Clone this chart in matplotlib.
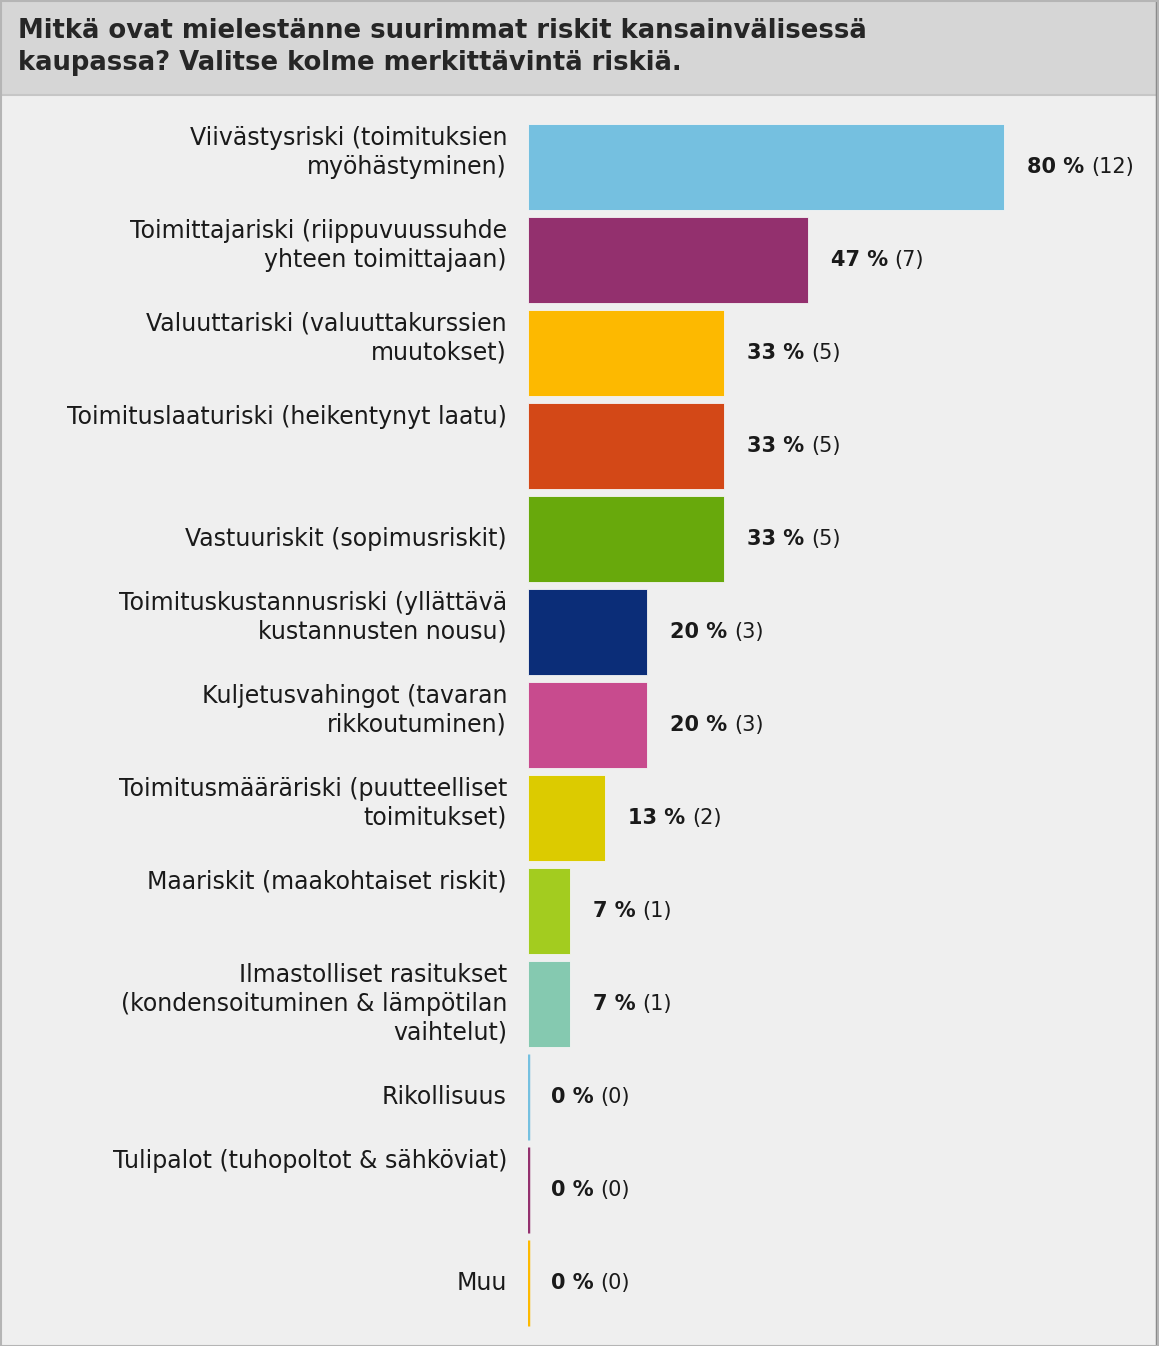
import matplotlib
matplotlib.use("Agg")
import matplotlib.pyplot as plt
from matplotlib.patches import Rectangle

plt.rcParams['font.family'] = ['DejaVu Sans']

title = "Mitkä ovat mielestänne suurimmat riskit kansainvälisessä\nkaupassa? Valitse kolme merkittävintä riskiä."

categories = [
    "Viivästysriski (toimituksien\nmyöhästyminen)",
    "Toimittajariski (riippuvuussuhde\nyhteen toimittajaan)",
    "Valuuttariski (valuuttakurssien\nmuutokset)",
    "Toimituslaaturiski (heikentynyt laatu)",
    "Vastuuriskit (sopimusriskit)",
    "Toimituskustannusriski (yllättävä\nkustannusten nousu)",
    "Kuljetusvahingot (tavaran\nrikkoutuminen)",
    "Toimitusmääräriski (puutteelliset\ntoimitukset)",
    "Maariskit (maakohtaiset riskit)",
    "Ilmastolliset rasitukset\n(kondensoituminen & lämpötilan\nvaihtelut)",
    "Rikollisuus",
    "Tulipalot (tuhopoltot & sähköviat)",
    "Muu",
]
percents = [80, 47, 33, 33, 33, 20, 20, 13, 7, 7, 0, 0, 0]
counts = [12, 7, 5, 5, 5, 3, 3, 2, 1, 1, 0, 0, 0]
colors = ["#75c0e0", "#93306e", "#fdb900", "#d34817", "#68a90c", "#0b2d78",
          "#c84b8e", "#dccb00", "#a3cc1f", "#85c9b0", "#75c0e0", "#93306e", "#fdb900"]
label_align = ["top", "top", "top", "top", "center", "top", "top", "top", "top",
               "top", "center", "top", "center"]

W, H = 1159, 1346
fig = plt.figure(figsize=(W / 100, H / 100), dpi=100)
fig.patch.set_facecolor("#efefef")

# title band
fig.patches.append(Rectangle((0, 1 - 95 / H), 1, 95 / H, transform=fig.transFigure,
                             facecolor="#d6d6d6", edgecolor="none", zorder=0))
fig.lines.append(plt.Line2D([0, 1], [1 - 95 / H, 1 - 95 / H], transform=fig.transFigure,
                            color="#c6c6c6", lw=1.5))
# border
fig.patches.append(Rectangle((0.5 / W, 0.5 / H), 1 - 2 / W, 1 - 1.5 / H, transform=fig.transFigure,
                             facecolor="none", edgecolor="#b5b5b5", lw=1.5, zorder=5))
fig.lines.append(plt.Line2D([1 - 2 / W, 1 - 2 / W], [0, 1], transform=fig.transFigure,
                            color="#8a8a8a", lw=2.5))

fig.text(18 / W, 1 - 47 / H, title, ha="left", va="center", fontsize=18.6,
         fontweight="bold", color="#262626", linespacing=1.27)

ax_left, ax_right = 528, 1123
ax_top, ax_bot = 120.5, 1329.5
ax = fig.add_axes([ax_left / W, 1 - ax_bot / H, (ax_right - ax_left) / W, (ax_bot - ax_top) / H])
ax.set_facecolor("none")
n = len(categories)
ypos = list(range(n))
ax.barh(ypos, percents, height=0.915, color=colors, edgecolor="#f4f4f4", linewidth=0.6)
for y, p, c in zip(ypos, percents, colors):
    if p == 0:
        ax.barh(y, 0, height=0.915, color=c, edgecolor=c, linewidth=2.5)
ax.set_xlim(0, 100)
ax.set_ylim(n - 0.5, -0.5)
ax.axis("off")

fig.canvas.draw()
renderer = fig.canvas.get_renderer()
for y, p, cnt, lab, al in zip(ypos, percents, counts, categories, label_align):
    t1 = ax.annotate(f"{p} %", xy=(p, y), xytext=(23 * 0.72, 0), textcoords="offset points",
                     ha="left", va="center", fontsize=15, fontweight="bold", color="#1a1a1a")
    bb = t1.get_window_extent(renderer)
    wpts = bb.width * 72 / 100
    ax.annotate(f"({cnt})", xy=(p, y), xytext=(23 * 0.72 + wpts + 5, 0), textcoords="offset points",
                ha="left", va="center", fontsize=15, color="#1a1a1a")
    if al == "top":
        ax.annotate(lab, xy=(0, y), xytext=(-21 * 0.72, 0.5 * 85 * 0.72 - 1), textcoords="offset points",
                    ha="right", va="top", fontsize=17, color="#1a1a1a", linespacing=1.25)
    else:
        ax.annotate(lab, xy=(0, y), xytext=(-21 * 0.72, 0), textcoords="offset points",
                    ha="right", va="center", fontsize=17, color="#1a1a1a", linespacing=1.25)

fig.savefig("out.png", dpi=100, facecolor=fig.get_facecolor())
